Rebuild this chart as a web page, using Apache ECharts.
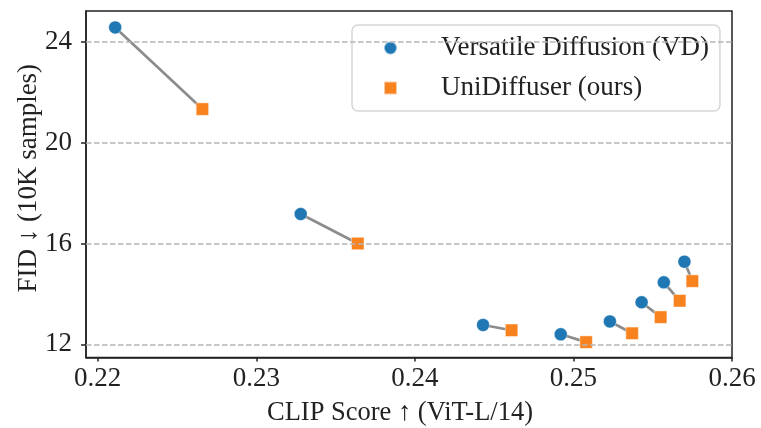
<!DOCTYPE html>
<html>
<head>
<meta charset="utf-8">
<script src="https://cdn.jsdelivr.net/npm/echarts@6/dist/echarts.min.js"></script>
<style>
html,body{margin:0;padding:0;background:#fff;}
#chart{width:761px;height:428px;}
</style>
</head>
<body>
<div id="chart"></div>
<script>
// Data
const clipVD  = [0.2211, 0.2328, 0.2443, 0.2492, 0.2523, 0.2543, 0.2557, 0.2570];
const fidVD   = [24.57, 17.17, 12.77, 12.40, 12.91, 13.67, 14.46, 15.28];
const clipUni = [0.2266, 0.2364, 0.2461, 0.2508, 0.2537, 0.2555, 0.2567, 0.2575];
const fidUni  = [21.33, 16.00, 12.56, 12.09, 12.44, 13.08, 13.73, 14.51];
const xTicks = [0.22, 0.23, 0.24, 0.25, 0.26];
const yTicks = [12, 16, 20, 24];
const nameVD = 'Versatile Diffusion (VD)';
const nameUni = 'UniDiffuser (ours)';
const xTitle = 'CLIP Score ↑ (ViT-L/14)';
const yTitle = 'FID ↓ (10K samples)';

const FONT = "'Liberation Serif','Times New Roman',serif";

const vdData = clipVD.map((x, i) => [x, fidVD[i]]);
const uniData = clipUni.map((x, i) => [x, fidUni[i]]);
const connectors = [];
clipVD.forEach((x, i) => {
  connectors.push([x, fidVD[i]]);
  connectors.push([clipUni[i], fidUni[i]]);
  connectors.push('-');
});

const chart = echarts.init(document.getElementById('chart'), null, {renderer: 'canvas'});
chart.setOption({
  animation: false,
  backgroundColor: '#fff',
  grid: {
    left: 86, right: 29, top: 11, bottom: 70.5,
    outerBoundsMode: 'none', containLabel: false,
    show: true, borderColor: '#222', borderWidth: 1.5, backgroundColor: 'transparent'
  },
  legend: {
    orient: 'vertical',
    left: 352, top: 25,
    padding: [9, 11, 9, 31],
    itemGap: 12,
    itemWidth: 13, itemHeight: 13,
    backgroundColor: 'rgba(255,255,255,0.85)',
    borderColor: '#d6d6d6', borderWidth: 1.5, borderRadius: 6,
    textStyle: {fontFamily: FONT, fontSize: 27, color: '#222', lineHeight: 28, padding: [0, 0, 0, 39]},
    data: [{name: nameVD, icon: 'circle'}, {name: nameUni, icon: 'rect'}]
  },
  xAxis: {
    type: 'value', min: 0.21926, max: 0.26,
    name: xTitle, nameLocation: 'middle', nameGap: 42, nameMoveOverlap: false,
    nameTextStyle: {fontFamily: FONT, fontSize: 26.5, color: '#222', padding: [0, 18, 0, 0]},
    axisLine: {show: true, lineStyle: {color: '#222', width: 1.5}},
    axisTick: {show: true, length: 4, lineStyle: {color: '#222', width: 1.5}, customValues: xTicks},
    axisLabel: {customValues: xTicks, formatter: v => v.toFixed(2), fontFamily: FONT, fontSize: 27, color: '#222', margin: 8},
    splitLine: {show: false}
  },
  yAxis: {
    type: 'value', min: 11.48, max: 25.22,
    name: yTitle, nameLocation: 'middle', nameGap: 44, nameMoveOverlap: false,
    nameTextStyle: {fontFamily: FONT, fontSize: 27, color: '#222', padding: [0, 0, 0, 12]},
    axisLine: {show: true, lineStyle: {color: '#222', width: 1.5}},
    axisTick: {show: true, length: 5, lineStyle: {color: '#222', width: 1.5}, customValues: yTicks},
    axisLabel: {customValues: yTicks, fontFamily: FONT, fontSize: 27, color: '#222', margin: 14},
    splitLine: {show: false}
  },
  series: [
    {
      type: 'line', name: 'connect', data: connectors, z: 1,
      symbol: 'none', connectNulls: false, silent: true,
      lineStyle: {color: '#8c8c8c', width: 2.7},
      markLine: {
        silent: true, symbol: 'none', label: {show: false},
        lineStyle: {color: '#b5b5b5', type: [5.5, 2.5], width: 1.5},
        data: yTicks.map(v => ({yAxis: v}))
      }
    },
    {
      type: 'scatter', name: nameVD, data: vdData, z: 3,
      symbol: 'circle', symbolSize: 13,
      itemStyle: {color: '#1f77b4', borderColor: 'rgba(255,255,255,0.5)', borderWidth: 0.8, opacity: 1}
    },
    {
      type: 'scatter', name: nameUni, data: uniData, z: 3,
      symbol: 'rect', symbolSize: 12.5,
      itemStyle: {color: '#f8821e', borderColor: 'rgba(255,255,255,0.6)', borderWidth: 0.8, opacity: 1}
    }
  ]
});
</script>
</body>
</html>
